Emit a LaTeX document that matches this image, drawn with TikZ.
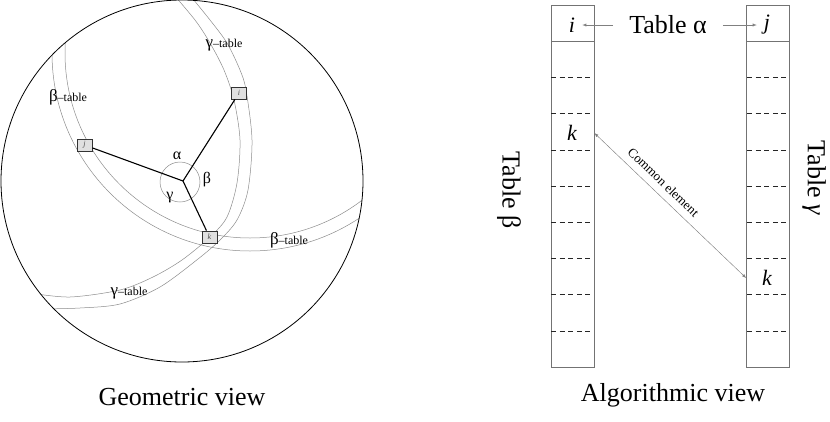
\documentclass[tikz,border=0pt]{standalone}
\usepackage{fontspec}
\setmainfont{Liberation Serif}
\usetikzlibrary{positioning}
\newcommand{\bandlabel}[1]{{\fontsize{17}{17}\selectfont #1}{\fontsize{12}{12}\selectfont --table}}
\tikzset{
  band/.style={draw=black!45, line width=0.5pt},
  pt/.style={draw=black!80, fill=black!12, line width=0.8pt, minimum width=15pt, minimum height=12pt, inner sep=0pt, font=\fontsize{8}{8}\selectfont\itshape, text=black!70},
  spoke/.style={line width=1.1pt},
  col/.style={draw=black!55, line width=0.7pt, minimum width=43pt, minimum height=362pt, inner sep=0pt},
  slot/.style={dash pattern=on 5pt off 3.6pt, line width=0.6pt, black!85},
  arr/.style={draw=black!50, line width=0.45pt, -latex},
  big/.style={font=\fontsize{26}{28}\selectfont},
  letter/.style={font=\fontsize{22}{24}\selectfont\itshape, inner sep=0pt, inner xsep=7pt}
}
\begin{document}
\begin{tikzpicture}[x=1pt, y=-1pt]
			\useasboundingbox (0,0) rectangle (830,421);
			% geometric view
			\coordinate (O) at (183,181);
			\begin{scope}
				\clip (182,181) circle[radius=181pt];
				\draw[band] (250,53) circle[radius=185pt];
				\draw[band] (250,53) circle[radius=198pt];
				\draw[band] plot[smooth] coordinates {(168,-12) (195,20) (210,43) (224,70) (234,100) (240,140) (237,183) (227,217) (210,237) (182,260) (153,277) (120,290) (70,297) (30,293)};
				\draw[band] plot[smooth] coordinates {(184,-12) (210,20) (227,43) (240,70) (246,90) (252,140) (248,190) (237,220) (220,240) (198,259) (160,287) (120,304) (80,308) (40,309)};
			\end{scope}
			\draw[line width=0.8pt] (182,181) circle[radius=181pt];
			\draw[band] (180,182) circle[radius=20pt];
			\node[pt] (pi) at (239,93) {i};
			\node[pt] (pj) at (84.5,145) {j};
			\node[pt] (pk) at (209.5,237) {k};
			\draw[spoke] (O) -- (pi);
			\draw[spoke] (O) -- (pj);
			\draw[spoke] (O) -- (pk);
			\node[font=\fontsize{16}{16}\selectfont] (la) at (177,156) {α};
			\node[font=\fontsize{16}{16}\selectfont] (lb) at (207,180) {β};
			\node[font=\fontsize{16}{16}\selectfont] (lg) at (170,198) {γ};
			\node (bl1) at (68,97) {\bandlabel{β}};
			\node (gl1) at (224,45) {\bandlabel{γ}};
			\node (bl2) at (289,240) {\bandlabel{β}};
			\node (gl2) at (129,293) {\bandlabel{γ}};
			\node[big] (geo) at (182,397) {Geometric view};
			% algorithmic view
			\node[col] (tb) at (572.5,186) {};
			\node[col] (tg) at (768,186) {};
			\draw[draw=black!55, line width=0.7pt] (551,41) -- (594,41);
			\draw[draw=black!55, line width=0.7pt] (747,41) -- (789,41);
			\foreach \n in {2,...,9} {
				\pgfmathsetmacro{\yy}{5+36.2*\n}
				\draw[slot] (551,\yy) -- (591,\yy);
				\draw[slot] (747,\yy) -- (787,\yy);
			}
			\node[letter] (iA) at (572,25) {i};
			\node[letter] (jA) at (767,25) {j};
			\node[big, inner xsep=16pt] (talpha) at (668,25) {Table α};
			\draw[arr] (talpha) -- (iA);
			\draw[arr] (talpha) -- (jA);
			\node[letter] (kB) at (572,133) {k};
			\node[letter] (kG) at (767,278) {k};
			\draw[arr, latex-latex] (tb.east |- kB) -- node[pos=0.4, sloped, above=4pt, font=\fontsize{13}{13}\selectfont] {Common element} (tg.west |- kG);
			\node[big, rotate=-90] (tbeta) at (509,190) {Table β};
			\node[big, rotate=-90] (tgamma) at (814,178) {Table \textit{γ}};
			\node[big] (alg) at (673,395) {Algorithmic view};
		\end{tikzpicture}
\end{document}
